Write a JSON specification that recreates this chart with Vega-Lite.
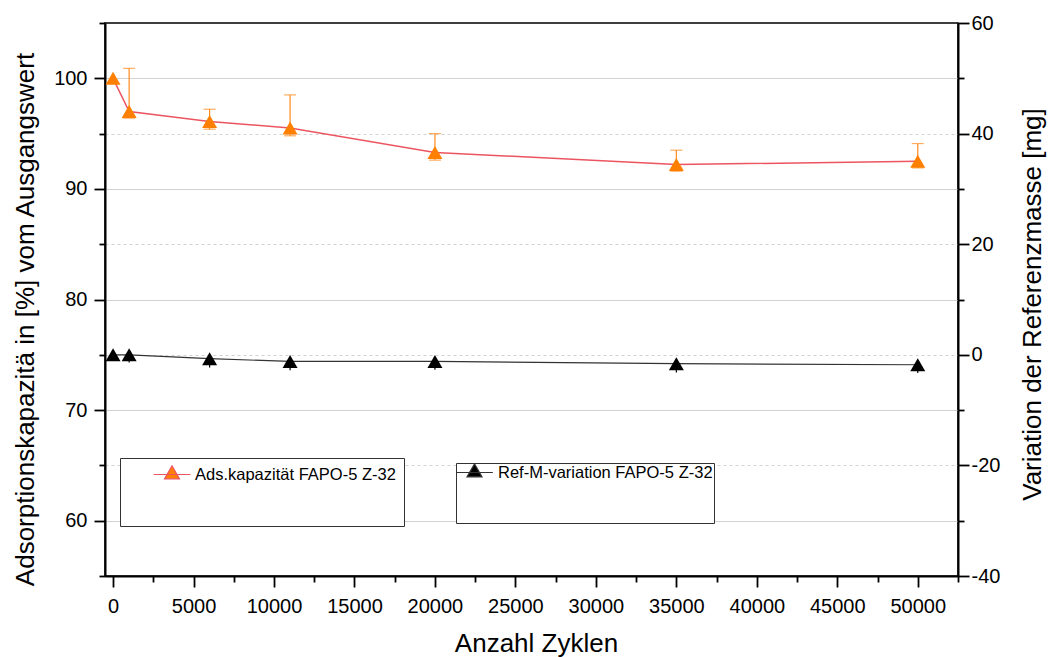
{
  "$schema": "https://vega.github.io/schema/vega-lite/v6.json",
  "width": 853,
  "height": 553,
  "autosize": {"type": "none"},
  "padding": {"left": 105, "top": 23, "right": 93, "bottom": 81},
  "background": "white",
  "config": {
    "font": "Liberation Sans",
    "view": {"stroke": "black", "strokeWidth": 1.6},
    "axis": {
      "labelFont": "Liberation Sans",
      "labelFontSize": 20,
      "labelColor": "black",
      "titleFont": "Liberation Sans",
      "titleFontSize": 26,
      "titleFontWeight": "normal",
      "titleColor": "black",
      "domainColor": "black",
      "domainWidth": 2,
      "tickColor": "black",
      "tickWidth": 1.8,
      "labelOverlap": false,
      "labelFlush": false,
      "grid": false
    },
    "legend": {
      "labelFont": "Liberation Sans",
      "labelFontSize": 16.5,
      "labelColor": "black",
      "labelLimit": 400
    }
  },
  "datasets": {
    "ads": [
      {"zyklen": 0, "wert": 100.0, "lo": null, "hi": null, "reihe": "Ads.kapazität FAPO-5 Z-32"},
      {"zyklen": 1000, "wert": 97.0, "lo": 96.4, "hi": 100.9, "reihe": "Ads.kapazität FAPO-5 Z-32"},
      {"zyklen": 6000, "wert": 96.1, "lo": 95.4, "hi": 97.2, "reihe": "Ads.kapazität FAPO-5 Z-32"},
      {"zyklen": 11000, "wert": 95.5, "lo": 94.8, "hi": 98.5, "reihe": "Ads.kapazität FAPO-5 Z-32"},
      {"zyklen": 20000, "wert": 93.3, "lo": 92.6, "hi": 95.0, "reihe": "Ads.kapazität FAPO-5 Z-32"},
      {"zyklen": 35000, "wert": 92.2, "lo": 91.6, "hi": 93.5, "reihe": "Ads.kapazität FAPO-5 Z-32"},
      {"zyklen": 50000, "wert": 92.5, "lo": 91.9, "hi": 94.1, "reihe": "Ads.kapazität FAPO-5 Z-32"}
    ],
    "ref": [
      {"zyklen": 0, "variation": 0.0, "lo": null, "reihe": "Ref-M-variation FAPO-5 Z-32"},
      {"zyklen": 1000, "variation": 0.0, "lo": -1.4, "reihe": "Ref-M-variation FAPO-5 Z-32"},
      {"zyklen": 6000, "variation": -0.7, "lo": -2.3, "reihe": "Ref-M-variation FAPO-5 Z-32"},
      {"zyklen": 11000, "variation": -1.2, "lo": -2.8, "reihe": "Ref-M-variation FAPO-5 Z-32"},
      {"zyklen": 20000, "variation": -1.2, "lo": -2.7, "reihe": "Ref-M-variation FAPO-5 Z-32"},
      {"zyklen": 35000, "variation": -1.6, "lo": -3.2, "reihe": "Ref-M-variation FAPO-5 Z-32"},
      {"zyklen": 50000, "variation": -1.8, "lo": -3.3, "reihe": "Ref-M-variation FAPO-5 Z-32"}
    ]
  },
  "layer": [
    {
      "data": {"name": "ads"},
      "layer": [
        {
          "mark": {"type": "line", "color": "#EC5560", "strokeWidth": 1.5},
          "encoding": {
            "x": {
              "field": "zyklen", "type": "quantitative",
              "scale": {"domain": [-500, 52500], "nice": false, "zero": false},
              "axis": {
                "title": "Anzahl Zyklen",
                "values": [0, 2500, 5000, 7500, 10000, 12500, 15000, 17500, 20000, 22500, 25000, 27500, 30000, 32500, 35000, 37500, 40000, 42500, 45000, 47500, 50000, 52500],
                "labelExpr": "datum.value % 5000 === 0 ? '' + datum.value : ''",
                "tickSize": {"condition": {"test": "datum.value % 5000 === 0", "value": 11}, "value": 6},
                "labelPadding": 9,
                "titleX": 431,
                "titleY": 75,
                "titleBaseline": "alphabetic",
                "titleAlign": "center"
              }
            },
            "y": {
              "field": "wert", "type": "quantitative",
              "scale": {"domain": [55, 105], "nice": false, "zero": false},
              "axis": {
                "orient": "left",
                "title": "Adsorptionskapazitä in [%] vom Ausgangswert",
                "values": [55, 60, 65, 70, 75, 80, 85, 90, 95, 100, 105],
                "labelExpr": "datum.value % 10 === 0 ? '' + datum.value : ''",
                "tickSize": {"condition": {"test": "datum.value % 10 === 0", "value": 11}, "value": 6},
                "labelPadding": 7,
                "grid": true,
                "gridColor": "#d2d2d2",
                "gridWidth": 1.2,
                "gridDash": {"condition": {"test": "datum.value % 10 === 0", "value": []}, "value": [3, 3]},
                "gridOpacity": {"condition": {"test": "datum.value === 55 || datum.value === 105", "value": 0}, "value": 1},
                "titleAngle": 270,
                "titleBaseline": "alphabetic",
                "titleAlign": "center",
                "titleX": -72,
                "titleY": 296
              }
            }
          }
        },
        {
          "mark": {"type": "rule", "color": "#FF8A1C", "strokeWidth": 1.2},
          "encoding": {
            "x": {"field": "zyklen", "type": "quantitative", "scale": {"domain": [-500, 52500], "nice": false, "zero": false}},
            "y": {"field": "lo", "type": "quantitative", "scale": {"domain": [55, 105], "nice": false, "zero": false}},
            "y2": {"field": "hi"}
          }
        },
        {
          "mark": {"type": "tick", "orient": "horizontal", "color": "#FF8A1C", "size": 12, "thickness": 1.2},
          "encoding": {
            "x": {"field": "zyklen", "type": "quantitative", "scale": {"domain": [-500, 52500], "nice": false, "zero": false}},
            "y": {"field": "lo", "type": "quantitative", "scale": {"domain": [55, 105], "nice": false, "zero": false}}
          }
        },
        {
          "mark": {"type": "tick", "orient": "horizontal", "color": "#FF8A1C", "size": 12, "thickness": 1.2},
          "encoding": {
            "x": {"field": "zyklen", "type": "quantitative", "scale": {"domain": [-500, 52500], "nice": false, "zero": false}},
            "y": {"field": "hi", "type": "quantitative", "scale": {"domain": [55, 105], "nice": false, "zero": false}}
          }
        },
        {
          "mark": {"type": "point", "shape": "triangle-up", "filled": true, "size": 225, "opacity": 1, "strokeWidth": 0},
          "encoding": {
            "x": {"field": "zyklen", "type": "quantitative", "scale": {"domain": [-500, 52500], "nice": false, "zero": false}},
            "y": {"field": "wert", "type": "quantitative", "scale": {"domain": [55, 105], "nice": false, "zero": false}},
            "color": {
              "field": "reihe", "type": "nominal",
              "scale": {"domain": ["Ads.kapazität FAPO-5 Z-32"], "range": ["#FF8000"]},
              "legend": {
                "orient": "none",
                "legendX": 15,
                "legendY": 435,
                "padding": 8,
                "strokeColor": "#333333",
                "fillColor": "white",
                "title": " ",
                "titleOrient": "bottom",
                "titleFontSize": 4,
                "titlePadding": 31,
                "symbolType": "M-2.45,0H2.45M0,-1.15L1,0.58L-1,0.58Z",
                "symbolSize": 225,
                "symbolStrokeColor": "#EC5560",
                "symbolStrokeWidth": 1.2,
                "symbolOffset": 35.5,
                "labelOffset": 14.5
              }
            }
          }
        }
      ]
    },
    {
      "data": {"name": "ref"},
      "layer": [
        {
          "mark": {"type": "line", "color": "#333333", "strokeWidth": 1.2},
          "encoding": {
            "x": {"field": "zyklen", "type": "quantitative", "scale": {"domain": [-500, 52500], "nice": false, "zero": false}},
            "y": {
              "field": "variation", "type": "quantitative",
              "scale": {"domain": [-40, 60], "nice": false, "zero": false},
              "axis": {
                "orient": "right",
                "title": "Variation der Referenzmasse [mg]",
                "values": [-40, -30, -20, -10, 0, 10, 20, 30, 40, 50, 60],
                "labelExpr": "datum.value % 20 === 0 ? '' + datum.value : ''",
                "tickSize": {"condition": {"test": "datum.value % 20 === 0", "value": 11}, "value": 6},
                "labelPadding": 2,
                "grid": false,
                "titleAngle": 270,
                "titleBaseline": "alphabetic",
                "titleAlign": "center",
                "titleX": 82,
                "titleY": 281
              }
            }
          }
        },
        {
          "mark": {"type": "rule", "color": "black", "strokeWidth": 1.2},
          "encoding": {
            "x": {"field": "zyklen", "type": "quantitative", "scale": {"domain": [-500, 52500], "nice": false, "zero": false}},
            "y": {"field": "variation", "type": "quantitative", "scale": {"domain": [-40, 60], "nice": false, "zero": false}, "axis": {"orient": "right"}},
            "y2": {"field": "lo"}
          }
        },
        {
          "mark": {"type": "point", "shape": "triangle-up", "filled": true, "size": 225, "opacity": 1, "strokeWidth": 0},
          "encoding": {
            "x": {"field": "zyklen", "type": "quantitative", "scale": {"domain": [-500, 52500], "nice": false, "zero": false}},
            "y": {"field": "variation", "type": "quantitative", "scale": {"domain": [-40, 60], "nice": false, "zero": false}, "axis": {"orient": "right"}},
            "color": {
              "field": "reihe", "type": "nominal",
              "scale": {"domain": ["Ref-M-variation FAPO-5 Z-32"], "range": ["black"]},
              "legend": {
                "orient": "none",
                "legendX": 351,
                "legendY": 440,
                "padding": 1,
                "strokeColor": "#333333",
                "fillColor": "white",
                "title": " ",
                "titleOrient": "bottom",
                "titleFontSize": 4,
                "titlePadding": 37,
                "symbolType": "M-2.45,0H2.45M0,-1.15L1,0.58L-1,0.58Z",
                "symbolSize": 225,
                "symbolStrokeColor": "#333333",
                "symbolStrokeWidth": 1.2,
                "symbolOffset": 9,
                "labelOffset": 15
              }
            }
          }
        }
      ]
    }
  ],
  "resolve": {"scale": {"y": "independent", "color": "independent"}}
}
